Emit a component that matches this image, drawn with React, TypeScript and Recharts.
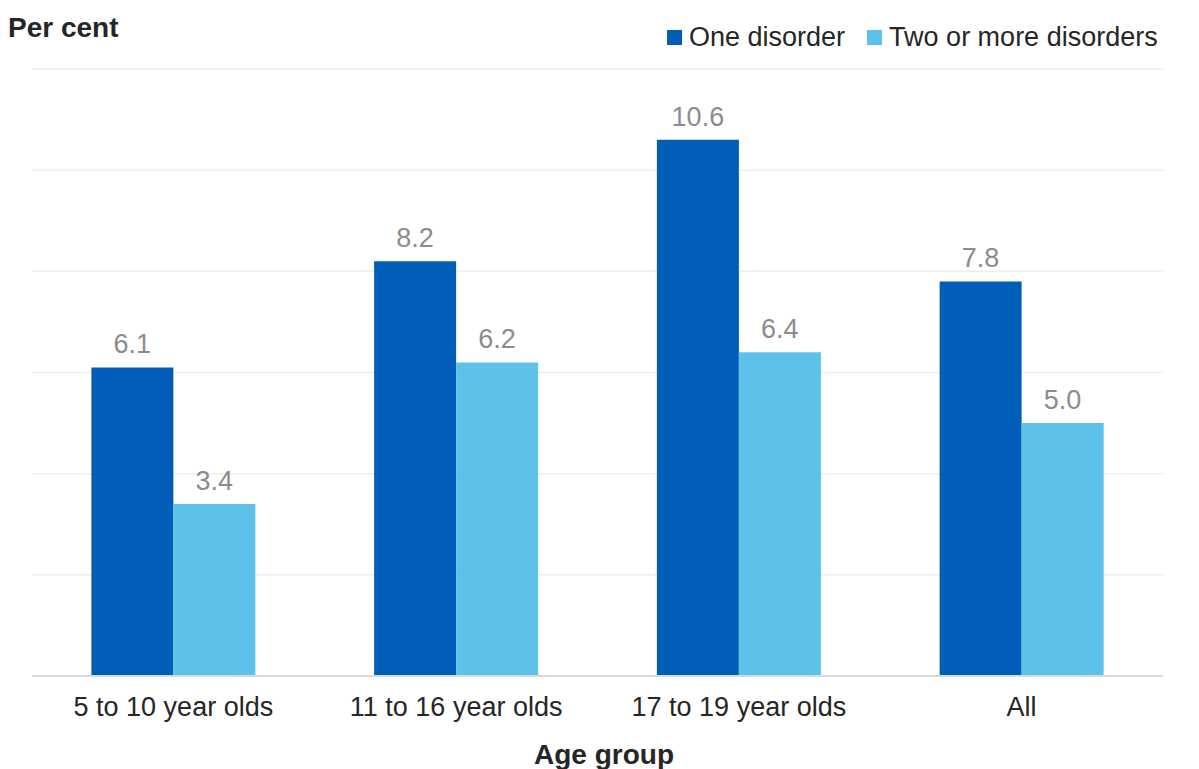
import React from 'react';
import { BarChart, Bar, XAxis, YAxis, CartesianGrid, LabelList } from 'recharts';

const ageGroups = ['5 to 10 year olds', '11 to 16 year olds', '17 to 19 year olds', 'All'];
const oneDisorder = [6.1, 8.2, 10.6, 7.8];
const twoOrMore = [3.4, 6.2, 6.4, 5.0];
const yTicks = [0, 2, 4, 6, 8, 10, 12];

const data = ageGroups.map((group, i) => ({
  group,
  one: oneDisorder[i],
  two: twoOrMore[i],
}));

const FONT = '"Liberation Sans", Arial, sans-serif';
const DARK = '#005EB8';
const LIGHT = '#5CC2EA';
const TEXT = '#262626';

const LegendBox = () => (
  <div
    style={{
      position: 'absolute',
      left: 667,
      top: 22,
      display: 'flex',
      alignItems: 'center',
      fontFamily: FONT,
      fontSize: 27,
      lineHeight: '31px',
      color: TEXT,
      whiteSpace: 'nowrap',
    }}
  >
    <span style={{ width: 15, height: 15, background: DARK, display: 'inline-block', marginRight: 7 }} />
    <span style={{ marginRight: 22 }}>One disorder</span>
    <span style={{ width: 15, height: 15, background: LIGHT, display: 'inline-block', marginRight: 7 }} />
    <span>Two or more disorders</span>
  </div>
);

const App: React.FC = () => {
  return (
    <div style={{ position: 'absolute', left: 0, top: 0, width: 1199, height: 769, background: '#fff', overflow: 'hidden' }}>
      <div style={{ position: 'absolute', left: 8, top: 12, lineHeight: '32px', fontFamily: FONT, fontWeight: 'bold', fontSize: 28, color: TEXT }}>
        Per cent
      </div>
      <LegendBox />
      <div style={{ position: 'absolute', left: 0, width: 1208, textAlign: 'center', top: 739, lineHeight: '32px', fontFamily: FONT, fontWeight: 'bold', fontSize: 28, color: TEXT }}>
        Age group
      </div>
      <BarChart
        width={1199}
        height={769}
        data={data}
        margin={{ top: 69, right: 36, left: 32, bottom: 33 }}
        barCategoryGap="21%"
        barGap={0}
      >
        <CartesianGrid vertical={false} stroke="#eeeeee" strokeWidth={1.5} />
        <XAxis
          dataKey="group"
          axisLine={{ stroke: '#d9d9d9', strokeWidth: 2 }}
          tickLine={false}
          height={60}
          tickMargin={15}
          tick={{ fill: TEXT, fontSize: 27, fontFamily: FONT }}
          interval={0}
        />
        <YAxis hide domain={[0, 12]} ticks={yTicks} />
        <Bar dataKey="one" name="One disorder" fill={DARK} isAnimationActive={false}>
          <LabelList dataKey="one" position="top" offset={14} fill="#8c8c8c" fontSize={27} fontFamily={FONT} formatter={(v: number) => v.toFixed(1)} />
        </Bar>
        <Bar dataKey="two" name="Two or more disorders" fill={LIGHT} isAnimationActive={false}>
          <LabelList dataKey="two" position="top" offset={14} fill="#8c8c8c" fontSize={27} fontFamily={FONT} formatter={(v: number) => v.toFixed(1)} />
        </Bar>
      </BarChart>
    </div>
  );
};

export default App;
